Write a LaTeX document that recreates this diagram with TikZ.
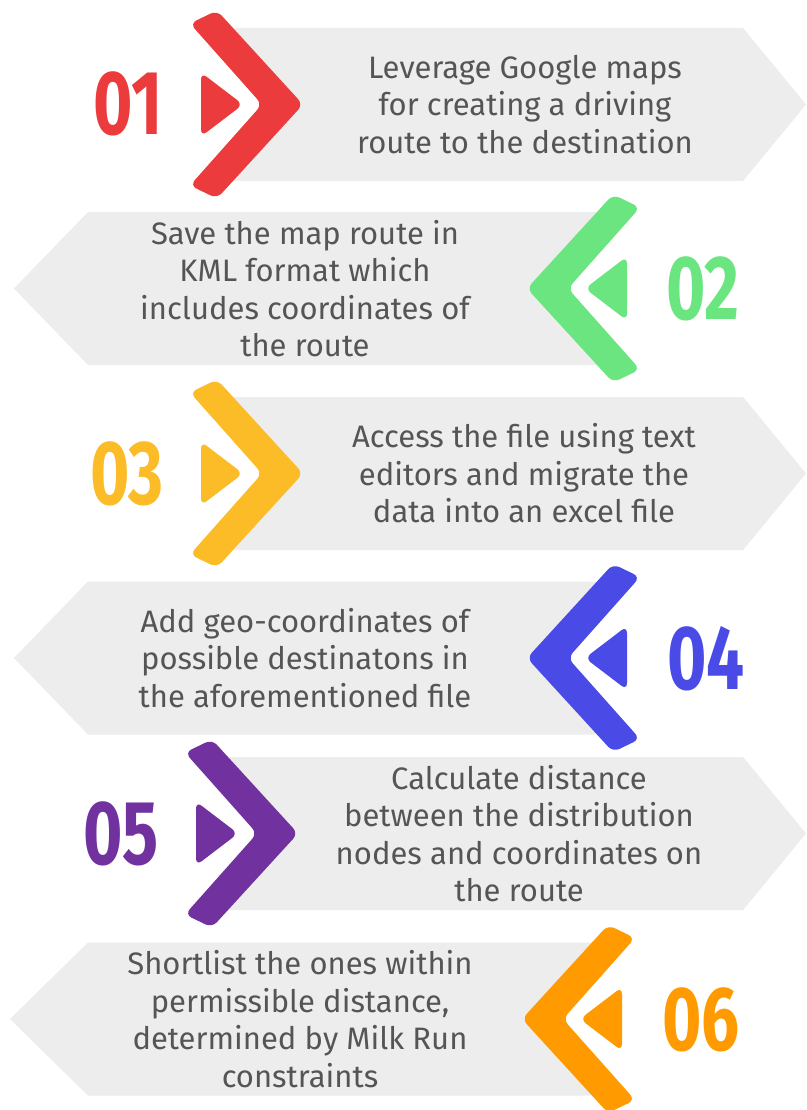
\documentclass[tikz,border=0pt]{standalone}
\usepackage{fontspec}
\setmainfont{Fira Sans}
\newfontfamily\numfont{Fira Sans}[FakeStretch=0.74]
\definecolor{bandgray}{HTML}{EDEDED}
\definecolor{txtgray}{HTML}{555555}
\definecolor{cred}{HTML}{EC3B3C}
\definecolor{cgreen}{HTML}{6BE580}
\definecolor{cyellow}{HTML}{FBBC28}
\definecolor{cblue}{HTML}{4A4BE6}
\definecolor{cpurple}{HTML}{7132A0}
\definecolor{corange}{HTML}{FF9B00}
% right-pointing row: #1 centre y, #2 chevron tip x, #3 colour
\newcommand\rowright[3]{%
  \fill[bandgray] (228,#1-76.5) -- (743,#1-76.5) -- (806,#1) -- (743,#1+76.5) -- (228,#1+76.5) -- (#2-38,#1) -- cycle;
  \fill[#3, rounded corners=7pt] (#2-99.5,#1-87.5) -- (#2-86,#1-94) -- (#2,#1) -- (#2-86,#1+94) -- (#2-113,#1+81) -- (#2-41,#1) -- (#2-113,#1-81) -- cycle;
  \fill[#3, rounded corners=7pt] (#2-102,#1) -- (#2-102,#1-32) -- (#2-60,#1) -- (#2-102,#1+32) -- cycle;
}
% left-pointing row
\newcommand\rowleft[4]{%
  \fill[bandgray] (#2+75,#1-76.5) -- (88,#1-76.5) -- (#4,#1) -- (88,#1+76.5) -- (#2+75,#1+76.5) -- (#2+38,#1) -- cycle;
  \fill[#3, rounded corners=7pt] (#2+99.5,#1-87.5) -- (#2+86,#1-94) -- (#2,#1) -- (#2+86,#1+94) -- (#2+113,#1+81) -- (#2+41,#1) -- (#2+113,#1-81) -- cycle;
  \fill[#3, rounded corners=7pt] (#2+100,#1) -- (#2+100,#1-32) -- (#2+58,#1) -- (#2+100,#1+32) -- cycle;
}
\begin{document}
\begin{tikzpicture}[x=1pt,y=-1pt,
  body/.style={text=txtgray, align=center, inner sep=0pt, font=\fontsize{31}{37.5}\selectfont},
  num/.style={anchor=base, inner sep=0pt, font=\numfont\bfseries\fontsize{91}{91}\selectfont}]
\useasboundingbox[fill=white] (0,0) rectangle (806,1110);
\rowright{104.5}{303}{cred}
\rowleft{288.5}{527}{cgreen}{14}
\rowright{473.5}{303}{cyellow}
\rowleft{658}{527}{cblue}{14}
\rowright{833.5}{298}{cpurple}
\rowleft{1019}{522}{corange}{10}

\node[num, text=cred]    (n1) at (128,135) {01};
\node[num, text=cgreen]  (n2) at (703,319.5) {02};
\node[num, text=cyellow] (n3) at (127,504.5) {03};
\node[num, text=cblue]   (n4) at (706,689) {04};
\node[num, text=cpurple] (n5) at (121,864.5) {05};
\node[num, text=corange] (n6) at (701,1050) {06};

\node[body] (t1) at (525,104.5) {Leverage Google maps\\for creating a driving\\route to the destination};
\node[body] (t2) at (305,288.5) {Save the map route in\\KML format which\\includes coordinates of\\the route};
\node[body] (t3) at (524,473.5) {Access the file using text\\editors and migrate the\\data into an excel file};
\node[body] (t4) at (305,658) {Add geo-coordinates of\\possible destinatons in\\the aforementioned file};
\node[body] (t5) at (519,833.5) {Calculate distance\\between the distribution\\nodes and coordinates on\\the route};
\node[body] (t6) at (300,1019) {Shortlist the ones within\\permissible distance,\\determined by Milk Run\\constraints};
\end{tikzpicture}
\end{document}
